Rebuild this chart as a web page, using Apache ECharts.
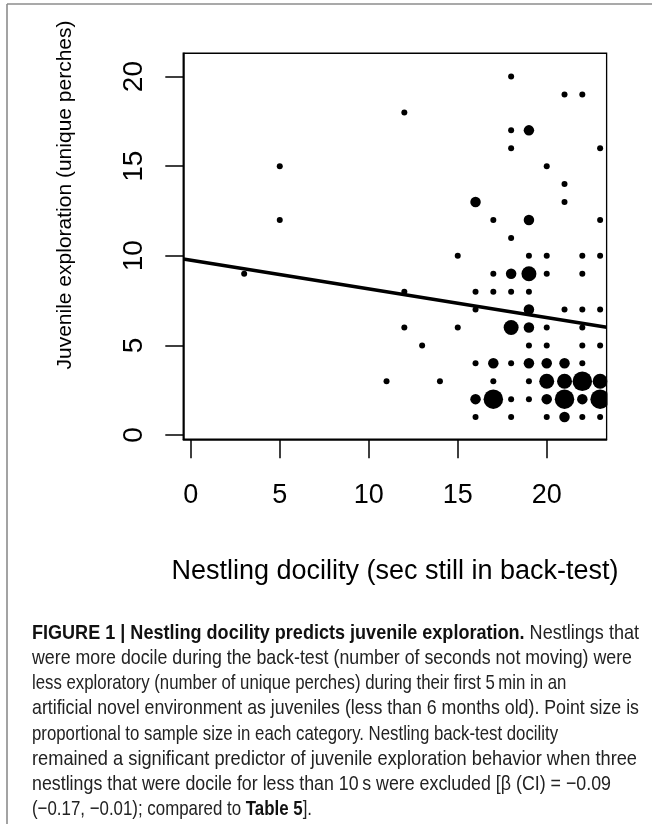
<!DOCTYPE html>
<html>
<head>
<meta charset="utf-8">
<script src="https://cdn.jsdelivr.net/npm/echarts@6/dist/echarts.min.js"></script>
<style>
  html, body { margin: 0; padding: 0; background: #fff; }
  #chart { width: 652px; height: 824px; }
</style>
</head>
<body>
<div id="chart"></div>
<script>
// Nestling docility (sec still in back-test) for each observed combination
const docility = [
  18,
  21, 22,
  12,
  18, 19,
  18, 23,
  5, 20,
  21,
  16, 21,
  5, 17, 19, 23,
  18,
  15, 19, 20, 22, 23,
  3, 17, 18, 19, 20, 22,
  12, 16, 17, 18, 19,
  16, 19, 21, 22, 23,
  12, 15, 18, 19, 20, 22,
  13, 19, 20, 22, 23,
  16, 17, 18, 19, 20, 21, 22,
  11, 14, 17, 19, 20, 21, 22, 23,
  16, 17, 18, 19, 20, 21, 22, 23,
  16, 18, 20, 21, 22, 23
];
// Juvenile exploration (unique perches) for the same combinations
const exploration = [
  20,
  19, 19,
  18,
  17, 17,
  16, 16,
  15, 15,
  14,
  13, 13,
  12, 12, 12, 12,
  11,
  10, 10, 10, 10, 10,
  9, 9, 9, 9, 9, 9,
  8, 8, 8, 8, 8,
  7, 7, 7, 7, 7,
  6, 6, 6, 6, 6, 6,
  5, 5, 5, 5, 5,
  4, 4, 4, 4, 4, 4, 4,
  3, 3, 3, 3, 3, 3, 3, 3,
  2, 2, 2, 2, 2, 2, 2, 2,
  1, 1, 1, 1, 1, 1
];
// Number of birds sharing each combination (drives point size)
const birdCount = [
  1,
  1, 1,
  1,
  1, 2,
  1, 1,
  1, 1,
  1,
  2, 1,
  1, 1, 2, 1,
  1,
  1, 1, 1, 1, 1,
  1, 1, 2, 3, 1, 1,
  1, 1, 1, 1, 1,
  1, 2, 1, 1, 1,
  1, 1, 3, 2, 1, 1,
  1, 1, 1, 1, 1,
  1, 2, 1, 2, 2, 2, 1,
  1, 1, 1, 1, 3, 3, 4, 3,
  2, 4, 1, 1, 2, 4, 2, 4,
  1, 1, 1, 2, 1, 1
];

const xTicks = [0, 5, 10, 15, 20];
const yTicks = [0, 5, 10, 15, 20];

// Fitted regression line: exploration = intercept + slope * docility
const fitIntercept = 9.75;
const fitSlope = -0.16;

const xTitle = 'Nestling docility (sec still in back-test)';
const yTitle = 'Juvenile exploration (unique perches)';

const captionLines = [
  '{b|FIGURE 1 | Nestling docility predicts juvenile exploration.} Nestlings that',
  'were more docile during the back-test (number of seconds not moving) were',
  'less exploratory (number of unique perches) during their first 5\u2009min in an',
  'artificial novel environment as juveniles (less than 6 months old). Point size is',
  'proportional to sample size in each category. Nestling back-test docility',
  'remained a significant predictor of juvenile exploration behavior when three',
  'nestlings that were docile for less than 10\u2009s were excluded [\u03b2 (CI) = \u22120.09',
  '(\u22120.17, \u22120.01); compared to {b|Table 5}].'
];

// Axis extents (R-style padding around the data)
const X_MIN = -0.42, X_MAX = 23.37;
const Y_MIN = -0.24, Y_MAX = 21.3;

const FONT = '"Liberation Sans", Arial, Helvetica, sans-serif';

const points = docility.map((x, i) => [x, exploration[i], birdCount[i]]);
const fitLine = [X_MIN, X_MAX].map(x => [x, fitIntercept + fitSlope * x]);

// Caption typeset in a condensed style: lines are squeezed horizontally
// towards their right edge, within a narrow band around the first line's squeeze
const capFontSize = 21;
const capLeft = 32;
const capTop = 633;
const capStep = 25.2;
const capRight = [639, 632, 541, 639, 549, 637, 611, 312];

const measureCtx = document.createElement('canvas').getContext('2d');
function lineWidth(line) {
  let w = 0;
  const re = /\{b\|([^}]*)\}|([^{]+)/g;
  let m;
  while ((m = re.exec(line)) !== null) {
    if (m[1] !== undefined) {
      measureCtx.font = 'bold ' + capFontSize + 'px ' + FONT;
      w += measureCtx.measureText(m[1]).width;
    } else {
      measureCtx.font = capFontSize + 'px ' + FONT;
      w += measureCtx.measureText(m[2]).width;
    }
  }
  return w;
}
const baseScale = (capRight[0] - capLeft) / lineWidth(captionLines[0]);

const captionGraphics = captionLines.map((line, i) => {
  const wanted = (capRight[i] - capLeft) / lineWidth(line);
  const scale = Math.min(baseScale * 1.02, Math.max(baseScale * 0.93, wanted));
  return {
    type: 'text', z: 100,
    x: capLeft, y: capTop + i * capStep,
    scaleX: scale,
    style: {
      text: line, fill: '#222', fontSize: capFontSize, fontFamily: FONT,
      verticalAlign: 'middle', align: 'left',
      rich: { b: { fontWeight: 'bold', fontSize: capFontSize, fontFamily: FONT, fill: '#111' } }
    }
  };
});

const chart = echarts.init(document.getElementById('chart'), null, { renderer: 'canvas' });

chart.setOption({
  animation: false,
  backgroundColor: '#fff',
  grid: {
    left: 183.3, top: 53.3, width: 423.4, height: 386,
    show: true, borderColor: '#000', borderWidth: 1.5, backgroundColor: 'transparent'
  },
  xAxis: {
    type: 'value', min: X_MIN, max: X_MAX,
    name: xTitle, nameLocation: 'middle', nameGap: 119,
    nameTextStyle: { color: '#000', fontSize: 27, fontFamily: FONT },
    axisLine: { show: true, onZero: false, lineStyle: { color: '#000', width: 1.5 } },
    axisTick: { show: true, inside: false, length: 19, customValues: xTicks, lineStyle: { color: '#000', width: 1.5 } },
    axisLabel: { customValues: xTicks, margin: 43, color: '#000', fontSize: 27, fontFamily: FONT },
    splitLine: { show: false }
  },
  yAxis: {
    type: 'value', min: Y_MIN, max: Y_MAX,
    axisLine: { show: true, onZero: false, lineStyle: { color: '#000', width: 1.5 } },
    axisTick: { show: true, inside: false, length: 18, customValues: yTicks, lineStyle: { color: '#000', width: 1.5 } },
    axisLabel: { customValues: yTicks, rotate: 90, margin: 35, color: '#000', fontSize: 28, fontFamily: FONT },
    splitLine: { show: false }
  },
  series: [
    {
      type: 'scatter',
      data: points,
      symbol: 'circle',
      symbolSize: d => 1.5 + 4.5 * d[2],
      itemStyle: { color: '#000', opacity: 1 },
      z: 3
    },
    {
      type: 'line',
      data: fitLine,
      symbol: 'none',
      lineStyle: { color: '#000', width: 3.5 },
      z: 4
    }
  ],
  graphic: [
    // keep large symbols inside the plotting box on the right side
    { type: 'rect', z: 100, shape: { x: 607.6, y: 40, width: 44, height: 410 }, style: { fill: '#fff' } },
    // frame around the figure panel
    { type: 'line', z: 100, shape: { x1: 7, y1: 4, x2: 652, y2: 4 }, style: { stroke: '#8c8c8c', lineWidth: 1.6 } },
    { type: 'line', z: 100, shape: { x1: 7, y1: 4, x2: 7, y2: 824 }, style: { stroke: '#8c8c8c', lineWidth: 1.6 } },
    {
      type: 'text', z: 100, x: 65, y: 195, rotation: Math.PI / 2,
      style: { text: yTitle, fill: '#000', fontSize: 21, fontFamily: FONT, align: 'center', verticalAlign: 'middle' }
    }
  ].concat(captionGraphics)
});
</script>
</body>
</html>
